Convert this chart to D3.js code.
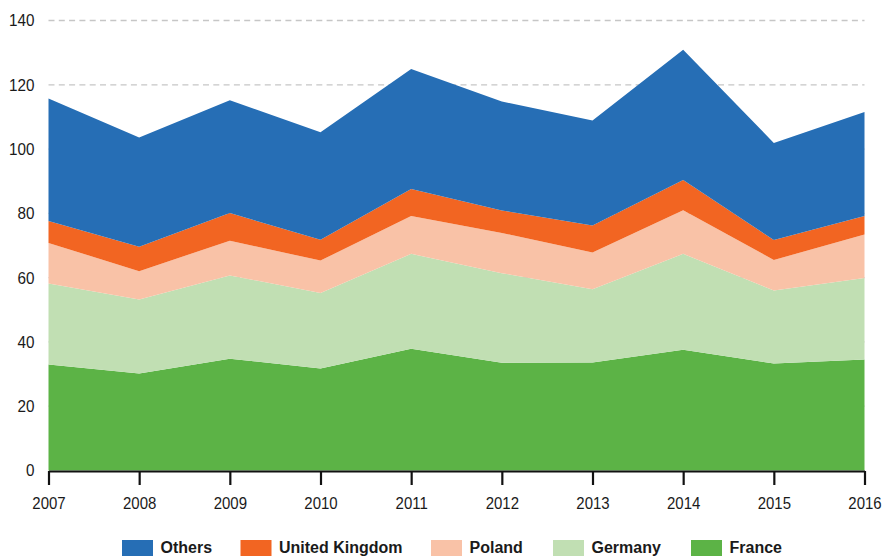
<!DOCTYPE html>
<html>
<head>
<meta charset="utf-8">
<script src="https://cdn.jsdelivr.net/npm/d3@7"></script>
<style>
  html, body { margin: 0; padding: 0; background: #fff; }
  svg { display: block; }
  text { font-family: "Liberation Sans", Arial, sans-serif; fill: #1a1a1a; }
</style>
</head>
<body>
<svg id="chart" width="882" height="557"></svg>
<script>
// Years on the x axis
const years = [2007, 2008, 2009, 2010, 2011, 2012, 2013, 2014, 2015, 2016];

// Series values per year (stacked from the bottom: France first)
const france  = [33.0, 30.2, 34.8, 31.7, 37.9, 33.5, 33.6, 37.6, 33.3, 34.5];
const germany = [25.2, 23.0, 25.9, 23.5, 29.5, 27.9, 22.8, 29.8, 22.7, 25.4];
const poland  = [12.6,  8.8, 10.8, 10.1, 11.8, 12.5, 11.4, 13.6,  9.5, 13.5];
const uk      = [ 6.8,  7.6,  8.6,  6.5,  8.4,  7.0,  8.4,  9.4,  6.2,  5.8];
const others  = [38.1, 34.0, 35.1, 33.4, 37.3, 33.9, 32.7, 40.5, 30.2, 32.3];

// Y-axis tick values
const yTicks = [0, 20, 40, 60, 80, 100, 120, 140];

// Series order: bottom to top
const seriesKeys   = ["France", "Germany", "Poland", "United Kingdom", "Others"];
const seriesValues = [france, germany, poland, uk, others];
const seriesColors = ["#5cb346", "#c1dfb3", "#f9c2a7", "#f26522", "#266eb5"];

// Legend order: left to right
const legendKeys = ["Others", "United Kingdom", "Poland", "Germany", "France"];

const rows = years.map((yr, i) => {
  const r = { year: yr };
  seriesKeys.forEach((k, j) => { r[k] = seriesValues[j][i]; });
  return r;
});

// Narrow the sans face horizontally so labels read as a condensed type
const SQUEEZE = 0.92;

const svg = d3.select("#chart");
const margin = { left: 48.5, right: 864.5, top: 20.5, bottom: 470.5 };

const x = d3.scaleLinear().domain([2007, 2016]).range([margin.left, margin.right]);
const y = d3.scaleLinear().domain([0, 140]).range([margin.bottom, margin.top]);

// Dashed horizontal grid lines
svg.append("g")
  .selectAll("line")
  .data(yTicks.filter(d => d > 0))
  .join("line")
  .attr("x1", margin.left)
  .attr("x2", margin.right)
  .attr("y1", d => y(d))
  .attr("y2", d => y(d))
  .attr("stroke", "#c6c6c6")
  .attr("stroke-width", 1.3)
  .attr("stroke-dasharray", "6,4.3");

// Stacked areas
const stack = d3.stack().keys(seriesKeys);
const layers = stack(rows);
const color = d3.scaleOrdinal().domain(seriesKeys).range(seriesColors);

const area = d3.area()
  .x(d => x(d.data.year))
  .y0(d => y(d[0]))
  .y1(d => y(d[1]));

svg.append("g")
  .selectAll("path")
  .data(layers)
  .join("path")
  .attr("d", area)
  .attr("fill", d => color(d.key));

// Y-axis labels (no axis line)
svg.append("g")
  .selectAll("text")
  .data(yTicks)
  .join("text")
  .attr("transform", d => `translate(34.5,${y(d)}) scale(${SQUEEZE},1)`)
  .attr("dy", "0.36em")
  .attr("text-anchor", "end")
  .style("font-size", "16.6px")
  .text(d => d);

// X axis
const xAxis = d3.axisBottom(x)
  .tickValues(years)
  .tickFormat(d3.format("d"))
  .tickSize(14)
  .tickSizeOuter(0)
  .tickPadding(10);

const gx = svg.append("g")
  .attr("transform", `translate(0,${margin.bottom + 0.5})`)
  .call(xAxis);
gx.select(".domain").attr("stroke", "#111").attr("stroke-width", 2.2);
gx.selectAll(".tick line").attr("stroke", "#111").attr("stroke-width", 2.2);
gx.selectAll(".tick text")
  .attr("fill", "#1a1a1a")
  .attr("y", null)
  .attr("dy", null)
  .attr("transform", `translate(0,37.5) scale(${SQUEEZE},1)`)
  .style("font-family", "\"Liberation Sans\", Arial, sans-serif")
  .style("font-size", "16.3px");

// Legend
const legendX = [122, 240.5, 431, 553, 691];
const legend = svg.append("g");
legendKeys.forEach((k, i) => {
  const g = legend.append("g").attr("transform", `translate(${legendX[i]},540)`);
  g.append("rect")
    .attr("width", 31)
    .attr("height", 16)
    .attr("fill", color(k));
  g.append("text")
    .attr("transform", `translate(38.5,13) scale(${SQUEEZE},1)`)
    .style("font-size", "17.4px")
    .style("font-weight", "bold")
    .text(k);
});
</script>
</body>
</html>
